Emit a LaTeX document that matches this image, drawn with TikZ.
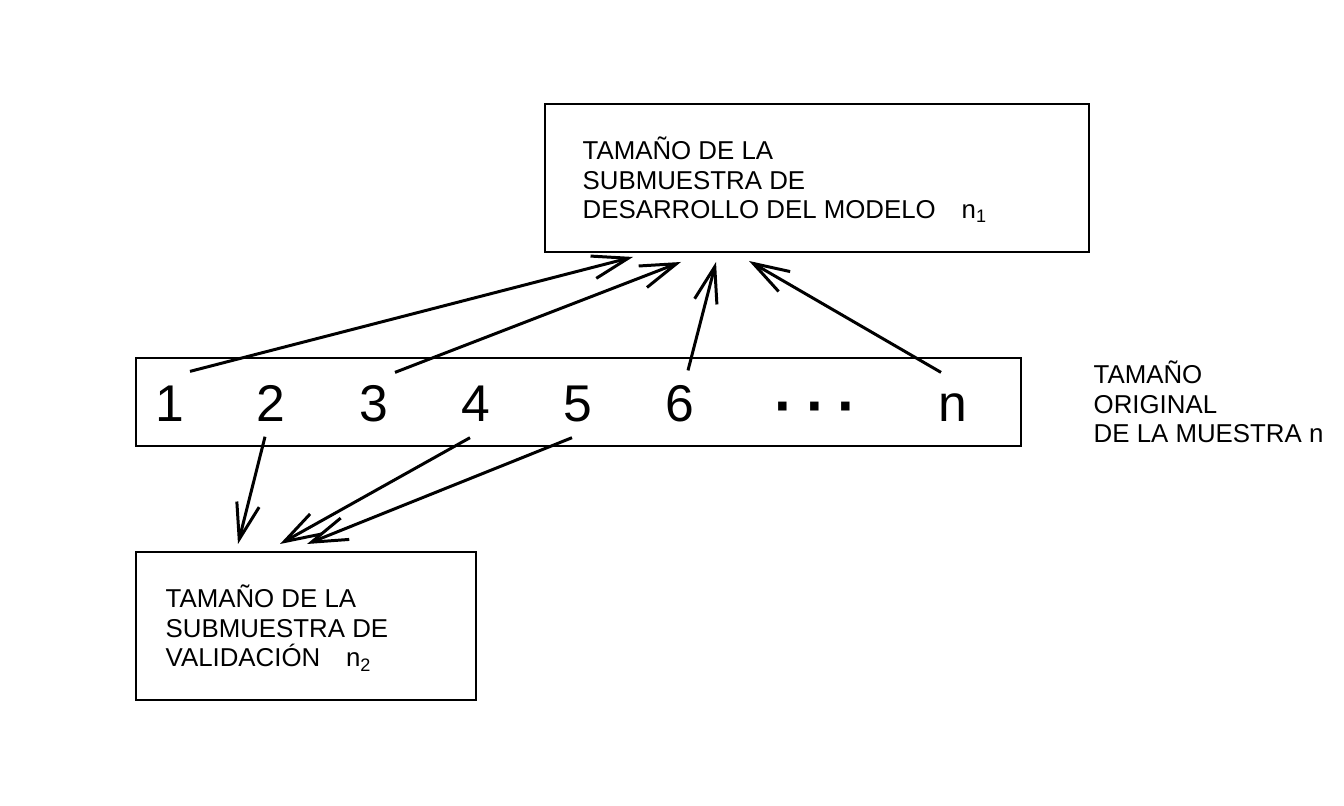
\documentclass[tikz,border=0pt]{standalone}
\usepackage{fontspec}
\setmainfont{Liberation Sans}
\usetikzlibrary{arrows.meta,calc}

\tikzset{
  box/.style={draw, line width=0.57pt, inner sep=0pt, outer sep=0pt, anchor=north west},
  label/.style={anchor=base west, inner sep=0pt, align=left, font=\fontsize{7.35}{8.5}\selectfont},
  digit/.style={anchor=base, inner sep=0pt, text height=10.5pt, text depth=0pt, font=\fontsize{14.7}{16}\selectfont},
  link/.style={line width=0.85pt, -{Straight Barb[length=3.6mm, width=2.3mm, line width=0.85pt]}}
}

\begin{document}
\begin{tikzpicture}[x=0.1mm, y=-0.1mm]
        \useasboundingbox (0,0) rectangle (1344,806);
        \node[box, minimum width=54.4mm, minimum height=14.8mm] (dev) at (545,104) {};
        \node[box, minimum width=88.5mm, minimum height=8.8mm] (row) at (136,358) {};
        \node[box, minimum width=34mm, minimum height=14.8mm] (val) at (136,552) {};

        % base anchor = baseline of the last line
        \node[label] (devtext) at (582,219) {TAMAÑO DE LA\\SUBMUESTRA DE\\DESARROLLO DEL MODELO\quad n\textsubscript{1}};
        \node[label] (valtext) at (165,667) {TAMAÑO DE LA\\SUBMUESTRA DE\\VALIDACIÓN\quad n\textsubscript{2}};
        \node[label] (rowtext) at (1093,443) {TAMAÑO\\ORIGINAL\\DE LA MUESTRA n};

        \foreach \i/\x in {1/170, 2/271, 3/374, 4/476, 5/578, 6/680}{
            \node[digit] (d\i) at (\x,422) {\i};
        }
        \node[digit] (dn) at (953,422) {n};
        \node[digit] (dots) at (816,427) {\fontsize{17}{18}\selectfont\textbf{·\hspace{3.2pt}·\hspace{3.2pt}·}};

        \path[draw, link] ($(d1.north)+(20,-13)$) -- ($(dev.south west)+(88,5)$);
        \path[draw, link] ($(d3.north)+(21,-12)$) -- ($(dev.south west)+(136,10)$);
        \path[draw, link] ($(d6.north)+(8,-14)$) -- ($(dev.south west)+(171,10)$);
        \path[draw, link] ($(dn.north)+(-12,-12)$) -- ($(dev.south west)+(204,9)$);
        \path[draw, link] ($(d2.south)+(-6,14)$) -- ($(val.north west)+(102,-8)$);
        \path[draw, link] ($(d4.south)+(-6,15)$) -- ($(val.north west)+(144,-8)$);
        \path[draw, link] ($(d5.south)+(-6,15)$) -- ($(val.north west)+(171,-8)$);
    \end{tikzpicture}
\end{document}
